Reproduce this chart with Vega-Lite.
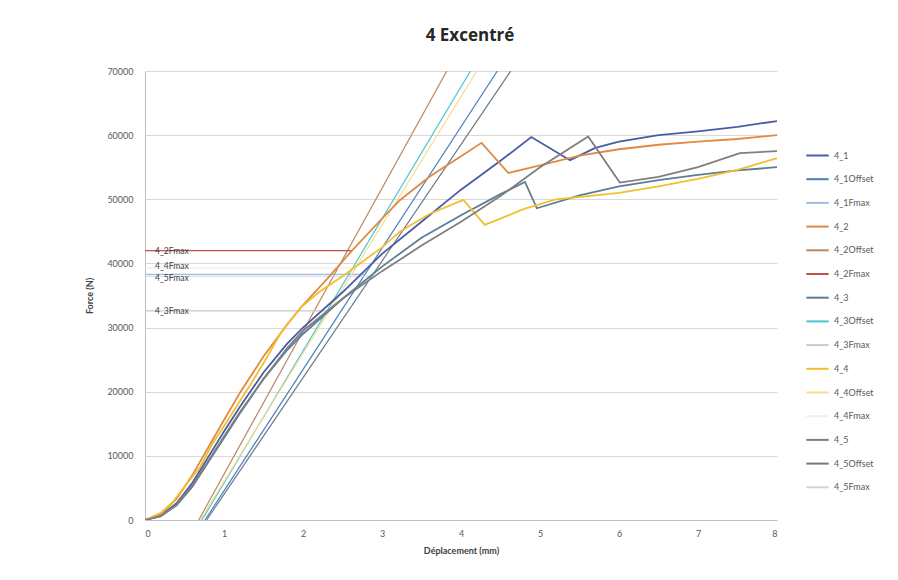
{
  "$schema": "https://vega.github.io/schema/vega-lite/v6.json",
  "width": 632,
  "height": 449,
  "autosize": {"type": "none"},
  "padding": {"left": 145, "top": 71, "right": 121, "bottom": 60},
  "background": "white",
  "config": {
    "font": "Lato",
    "view": {"stroke": null},
    "axis": {"labelColor": "#595959", "titleColor": "#404040", "labelFont": "Lato", "titleFont": "Lato"}
  },
  "title": {"text": "4 Excentré", "fontSize": 17, "font": "Open Sans", "fontWeight": "bold", "color": "#262626", "anchor": "middle", "frame": "group", "offset": 22, "dx": 9},
  "datasets": {
    "series": [
      {"s": "4_1", "x": 0, "y": 0}, {"s": "4_1", "x": 0.2, "y": 700}, {"s": "4_1", "x": 0.4, "y": 2600}, {"s": "4_1", "x": 0.6, "y": 5800}, {"s": "4_1", "x": 0.8, "y": 9800}, {"s": "4_1", "x": 1.0, "y": 13800}, {"s": "4_1", "x": 1.2, "y": 17600}, {"s": "4_1", "x": 1.5, "y": 23000}, {"s": "4_1", "x": 1.8, "y": 27500}, {"s": "4_1", "x": 2.0, "y": 30000}, {"s": "4_1", "x": 2.5, "y": 35500}, {"s": "4_1", "x": 3.0, "y": 41500}, {"s": "4_1", "x": 3.5, "y": 46500}, {"s": "4_1", "x": 4.0, "y": 51500}, {"s": "4_1", "x": 4.5, "y": 56000}, {"s": "4_1", "x": 4.89, "y": 59700}, {"s": "4_1", "x": 5.38, "y": 56100}, {"s": "4_1", "x": 5.7, "y": 58000}, {"s": "4_1", "x": 6.0, "y": 59000}, {"s": "4_1", "x": 6.5, "y": 60000}, {"s": "4_1", "x": 7.0, "y": 60600}, {"s": "4_1", "x": 7.5, "y": 61300}, {"s": "4_1", "x": 8.0, "y": 62200},
      {"s": "4_1Offset", "x": 0.76, "y": 0}, {"s": "4_1Offset", "x": 4.46, "y": 70000},
      {"s": "4_1Fmax", "x": 0, "y": 38300}, {"s": "4_1Fmax", "x": 2.78, "y": 38300},
      {"s": "4_2", "x": 0, "y": 0}, {"s": "4_2", "x": 0.2, "y": 900}, {"s": "4_2", "x": 0.4, "y": 3300}, {"s": "4_2", "x": 0.6, "y": 7000}, {"s": "4_2", "x": 0.8, "y": 11300}, {"s": "4_2", "x": 1.0, "y": 15600}, {"s": "4_2", "x": 1.2, "y": 19800}, {"s": "4_2", "x": 1.5, "y": 25500}, {"s": "4_2", "x": 1.8, "y": 30500}, {"s": "4_2", "x": 2.0, "y": 33500}, {"s": "4_2", "x": 2.3, "y": 37500}, {"s": "4_2", "x": 2.62, "y": 42000}, {"s": "4_2", "x": 3.0, "y": 47000}, {"s": "4_2", "x": 3.23, "y": 49900}, {"s": "4_2", "x": 3.6, "y": 53500}, {"s": "4_2", "x": 4.0, "y": 56700}, {"s": "4_2", "x": 4.26, "y": 58800}, {"s": "4_2", "x": 4.6, "y": 54100}, {"s": "4_2", "x": 5.0, "y": 55300}, {"s": "4_2", "x": 5.5, "y": 56800}, {"s": "4_2", "x": 6.0, "y": 57800}, {"s": "4_2", "x": 6.5, "y": 58500}, {"s": "4_2", "x": 7.0, "y": 59000}, {"s": "4_2", "x": 7.5, "y": 59400}, {"s": "4_2", "x": 8.0, "y": 60000},
      {"s": "4_2Offset", "x": 0.68, "y": 0}, {"s": "4_2Offset", "x": 3.82, "y": 70000},
      {"s": "4_2Fmax", "x": 0, "y": 42000}, {"s": "4_2Fmax", "x": 2.62, "y": 42000},
      {"s": "4_3", "x": 0, "y": 0}, {"s": "4_3", "x": 0.2, "y": 600}, {"s": "4_3", "x": 0.4, "y": 2300}, {"s": "4_3", "x": 0.6, "y": 5200}, {"s": "4_3", "x": 0.8, "y": 9000}, {"s": "4_3", "x": 1.0, "y": 12800}, {"s": "4_3", "x": 1.2, "y": 16600}, {"s": "4_3", "x": 1.5, "y": 22000}, {"s": "4_3", "x": 1.8, "y": 26500}, {"s": "4_3", "x": 2.0, "y": 29000}, {"s": "4_3", "x": 2.5, "y": 34500}, {"s": "4_3", "x": 3.0, "y": 39500}, {"s": "4_3", "x": 3.5, "y": 44000}, {"s": "4_3", "x": 4.0, "y": 47500}, {"s": "4_3", "x": 4.5, "y": 50800}, {"s": "4_3", "x": 4.81, "y": 52700}, {"s": "4_3", "x": 4.96, "y": 48600}, {"s": "4_3", "x": 5.5, "y": 50600}, {"s": "4_3", "x": 6.0, "y": 52000}, {"s": "4_3", "x": 6.5, "y": 53000}, {"s": "4_3", "x": 7.0, "y": 53800}, {"s": "4_3", "x": 7.5, "y": 54500}, {"s": "4_3", "x": 8.0, "y": 55000},
      {"s": "4_3Offset", "x": 0.72, "y": 0}, {"s": "4_3Offset", "x": 4.12, "y": 70000},
      {"s": "4_3Fmax", "x": 0, "y": 32600}, {"s": "4_3Fmax", "x": 2.31, "y": 32600},
      {"s": "4_4", "x": 0, "y": 0}, {"s": "4_4", "x": 0.2, "y": 1100}, {"s": "4_4", "x": 0.36, "y": 2900}, {"s": "4_4", "x": 0.5, "y": 5200}, {"s": "4_4", "x": 0.7, "y": 8300}, {"s": "4_4", "x": 0.85, "y": 11800}, {"s": "4_4", "x": 1.03, "y": 15200}, {"s": "4_4", "x": 1.2, "y": 18500}, {"s": "4_4", "x": 1.37, "y": 21800}, {"s": "4_4", "x": 1.55, "y": 25500}, {"s": "4_4", "x": 1.71, "y": 29000}, {"s": "4_4", "x": 1.96, "y": 33000}, {"s": "4_4", "x": 2.2, "y": 35500}, {"s": "4_4", "x": 2.5, "y": 38000}, {"s": "4_4", "x": 3.0, "y": 42500}, {"s": "4_4", "x": 3.23, "y": 45000}, {"s": "4_4", "x": 3.6, "y": 47700}, {"s": "4_4", "x": 4.03, "y": 49900}, {"s": "4_4", "x": 4.3, "y": 46000}, {"s": "4_4", "x": 4.8, "y": 48500}, {"s": "4_4", "x": 5.2, "y": 50000}, {"s": "4_4", "x": 6.0, "y": 51000}, {"s": "4_4", "x": 6.5, "y": 52000}, {"s": "4_4", "x": 7.0, "y": 53200}, {"s": "4_4", "x": 7.5, "y": 54600}, {"s": "4_4", "x": 8.0, "y": 56400},
      {"s": "4_4Offset", "x": 0.7, "y": 0}, {"s": "4_4Offset", "x": 4.2, "y": 70000},
      {"s": "4_4Fmax", "x": 0, "y": 39300}, {"s": "4_4Fmax", "x": 2.66, "y": 39300},
      {"s": "4_5", "x": 0, "y": 0}, {"s": "4_5", "x": 0.2, "y": 600}, {"s": "4_5", "x": 0.4, "y": 2400}, {"s": "4_5", "x": 0.6, "y": 5400}, {"s": "4_5", "x": 0.8, "y": 9200}, {"s": "4_5", "x": 1.0, "y": 13000}, {"s": "4_5", "x": 1.2, "y": 16800}, {"s": "4_5", "x": 1.5, "y": 22000}, {"s": "4_5", "x": 1.8, "y": 26800}, {"s": "4_5", "x": 2.0, "y": 29500}, {"s": "4_5", "x": 2.5, "y": 34500}, {"s": "4_5", "x": 3.0, "y": 38800}, {"s": "4_5", "x": 3.23, "y": 40600}, {"s": "4_5", "x": 3.5, "y": 42800}, {"s": "4_5", "x": 4.0, "y": 46500}, {"s": "4_5", "x": 4.5, "y": 50500}, {"s": "4_5", "x": 5.0, "y": 55000}, {"s": "4_5", "x": 5.61, "y": 59800}, {"s": "4_5", "x": 6.01, "y": 52600}, {"s": "4_5", "x": 6.5, "y": 53500}, {"s": "4_5", "x": 7.0, "y": 55000}, {"s": "4_5", "x": 7.53, "y": 57200}, {"s": "4_5", "x": 8.0, "y": 57500},
      {"s": "4_5Offset", "x": 0.78, "y": 0}, {"s": "4_5Offset", "x": 4.63, "y": 70000},
      {"s": "4_5Fmax", "x": 0, "y": 38000}, {"s": "4_5Fmax", "x": 2.87, "y": 38000}
    ],
    "labels": [
      {"s": "4_2Fmax", "x": 0, "y": 42000},
      {"s": "4_4Fmax", "x": 0, "y": 39600},
      {"s": "4_5Fmax", "x": 0, "y": 37800},
      {"s": "4_3Fmax", "x": 0, "y": 32600}
    ]
  },
  "encoding": {
    "x": {"field": "x", "type": "quantitative", "scale": {"domain": [0, 8], "nice": false},
      "axis": {"title": "Déplacement (mm)", "values": [0,1,2,3,4,5,6,7,8], "grid": false, "ticks": false, "domainColor": "#bfbfbf", "labelFontSize": 9, "labelPadding": 9, "titleFontSize": 9, "titleFontWeight": "bold", "titlePadding": 8}},
    "y": {"field": "y", "type": "quantitative", "scale": {"domain": [0, 70000], "nice": false},
      "axis": {"title": "Force (N)", "values": [0,10000,20000,30000,40000,50000,60000,70000], "format": "d", "grid": true, "gridColor": "#d9d9d9", "ticks": false, "domainColor": "#bfbfbf", "labelFontSize": 9, "labelPadding": 12, "titleFontSize": 9, "titleFontWeight": "bold", "titlePadding": 12}}
  },
  "layer": [
    {
      "data": {"name": "series"},
      "transform": [{"filter": "indexof(datum.s, 'Offset') >= 0 || indexof(datum.s, 'Fmax') >= 0"}],
      "mark": {"type": "line", "strokeWidth": 1.2, "clip": true},
      "encoding": {
        "color": {"field": "s", "type": "nominal",
          "scale": {
            "domain": ["4_1", "4_1Offset", "4_1Fmax", "4_2", "4_2Offset", "4_2Fmax", "4_3", "4_3Offset", "4_3Fmax", "4_4", "4_4Offset", "4_4Fmax", "4_5", "4_5Offset", "4_5Fmax"],
            "range": ["#4a5ca6", "#4a7ebb", "#9dbde3", "#e08a45", "#b98864", "#c0504d", "#5b7e96", "#4cc3d6", "#c9c9c9", "#f0c030", "#f6de8c", "#eeeeee", "#7f7f7f", "#6b7b8c", "#d4d4d4"]
          },
          "legend": {"title": null, "orient": "none", "legendX": 660, "legendY": 72, "symbolType": "stroke", "symbolSize": 500, "symbolStrokeWidth": 2, "labelFontSize": 9, "labelColor": "#595959", "labelFont": "Lato", "rowPadding": 5.7, "labelOffset": 4}
        },
        "order": {"field": "x", "type": "quantitative"}
      }
    },
    {
      "data": {"name": "series"},
      "transform": [{"filter": "indexof(datum.s, 'Offset') < 0 && indexof(datum.s, 'Fmax') < 0"}],
      "mark": {"type": "line", "strokeWidth": 1.8, "clip": true},
      "encoding": {
        "color": {"field": "s", "type": "nominal"},
        "order": {"field": "x", "type": "quantitative"}
      }
    },
    {
      "data": {"name": "labels"},
      "mark": {"type": "text", "align": "left", "baseline": "middle", "dx": 10, "fontSize": 8.5, "color": "#404040", "font": "Lato"},
      "encoding": {"text": {"field": "s"}}
    }
  ]
}
